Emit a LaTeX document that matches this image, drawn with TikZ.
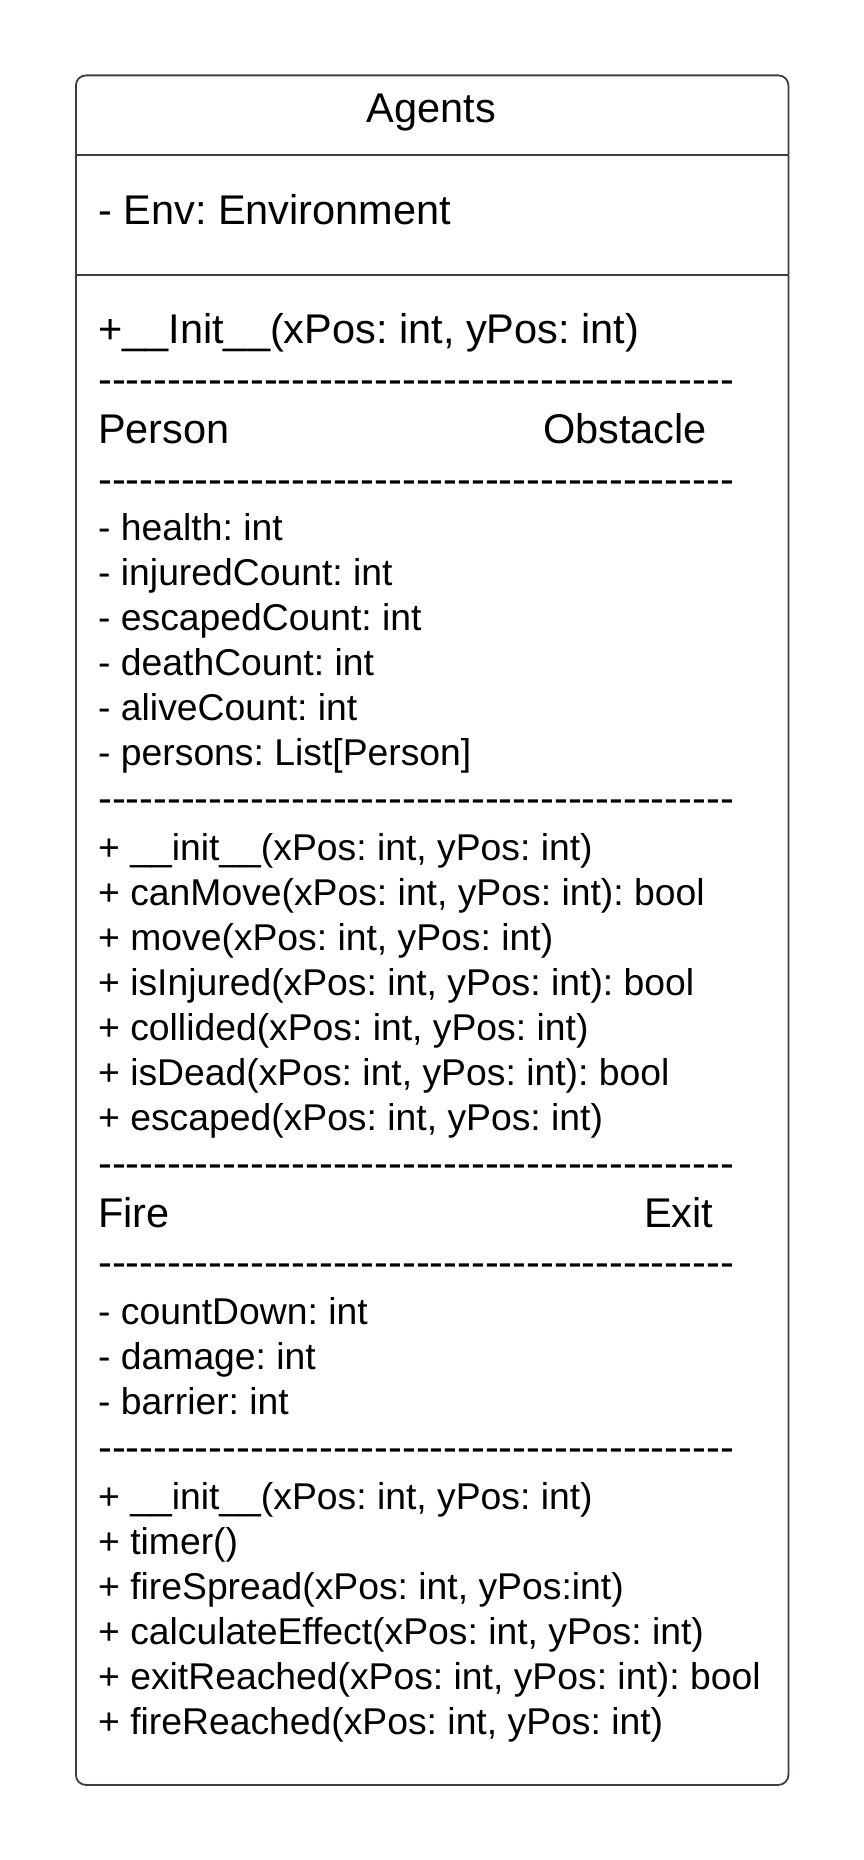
\documentclass[tikz,border=0pt]{standalone}
\usepackage{fontspec}
\setmainfont{Liberation Sans}
\frenchspacing
\definecolor{umlline}{HTML}{3A3E4A}
% one hyphen per box, so no ligature joins them
\newcommand{\hy}{\hbox{-}}
\newcommand{\hyfive}{\hy\hy\hy\hy\hy}
\newcommand{\dashrow}{\hyfive\hyfive\hyfive\hyfive\hyfive\hyfive\hyfive\hyfive\hyfive\hy}
\tikzset{
  big/.style={font=\fontsize{41.5}{49.8}\selectfont, anchor=base west, inner sep=0pt, text=black},
  small/.style={font=\fontsize{37.3}{44.8}\selectfont, anchor=base west, inner sep=0pt, text=black},
  frame/.style={draw=umlline, line width=1.8pt, rounded corners=10pt, fill=white, inner sep=0pt, anchor=north west},
  sep/.style={draw=umlline, line width=2.2pt}
}
\begin{document}
\begin{tikzpicture}[x=1pt,y=-1pt]
\useasboundingbox (0,0) rectangle (863,1860);
\fill[white] (0,0) rectangle (863,1860);

% class frame
\node[frame, minimum width=712.5pt, minimum height=1709.5pt] (box) at (75,74.5) {};
\coordinate (s1) at (0,155);
\coordinate (s2) at (0,275);
\draw[sep] (box.west |- s1) -- (box.east |- s1);
\draw[sep] (box.west |- s2) -- (box.east |- s2);

% name compartment
\node[big, anchor=base] (title) at (431.3,122) {Agents};

% attribute compartment
\node[big] (env) at (98,224) {- Env: Environment};

% operations compartment
\node[big] (init) at (98,343) {+\_\_Init\_\_(xPos: int, yPos: int)};
\node[big] (d1) at (98,393) {\dashrow};
\node[big] (person) at (98,443) {Person};
\node[big] (obstacle) at (543,443) {Obstacle};
\node[big] (d2) at (98,493) {\dashrow};

\node[small] (a1) at (98,540) {- health: int};
\node[small] (a2) at (98,585) {- injuredCount: int};
\node[small] (a3) at (98,630) {- escapedCount: int};
\node[small] (a4) at (98,675) {- deathCount: int};
\node[small] (a5) at (98,720) {- aliveCount: int};
\node[small] (a6) at (98,765) {- persons: List[Person]};

\node[big] (d3) at (98,812.5) {\dashrow};

\node[small] (m1) at (98,860) {+ \_\_init\_\_(xPos: int, yPos: int)};
\node[small] (m2) at (98,905) {+ canMove(xPos: int, yPos: int): bool};
\node[small] (m3) at (98,950) {+ move(xPos: int, yPos: int)};
\node[small] (m4) at (98,995) {+ isInjured(xPos: int, yPos: int): bool};
\node[small] (m5) at (98,1040) {+ collided(xPos: int, yPos: int)};
\node[small] (m6) at (98,1085) {+ isDead(xPos: int, yPos: int): bool};
\node[small] (m7) at (98,1130) {+ escaped(xPos: int, yPos: int)};

\node[big] (d4) at (98,1177.5) {\dashrow};
\node[big] (fire) at (98,1227) {Fire};
\node[big] (exit) at (644,1227) {Exit};
\node[big] (d5) at (98,1276.5) {\dashrow};

\node[small] (b1) at (98,1324) {- countDown: int};
\node[small] (b2) at (98,1369) {- damage: int};
\node[small] (b3) at (98,1414) {- barrier: int};

\node[big] (d6) at (98,1461.5) {\dashrow};

\node[small] (n1) at (98,1509) {+ \_\_init\_\_(xPos: int, yPos: int)};
\node[small] (n2) at (98,1554) {+ timer()};
\node[small] (n3) at (98,1599) {+ fireSpread(xPos: int, yPos:int)};
\node[small] (n4) at (98,1644) {+ calculateEffect(xPos: int, yPos: int)};
\node[small] (n5) at (98,1689) {+ exitReached(xPos: int, yPos: int): bool};
\node[small] (n6) at (98,1734) {+ fireReached(xPos: int, yPos: int)};
\end{tikzpicture}
\end{document}
